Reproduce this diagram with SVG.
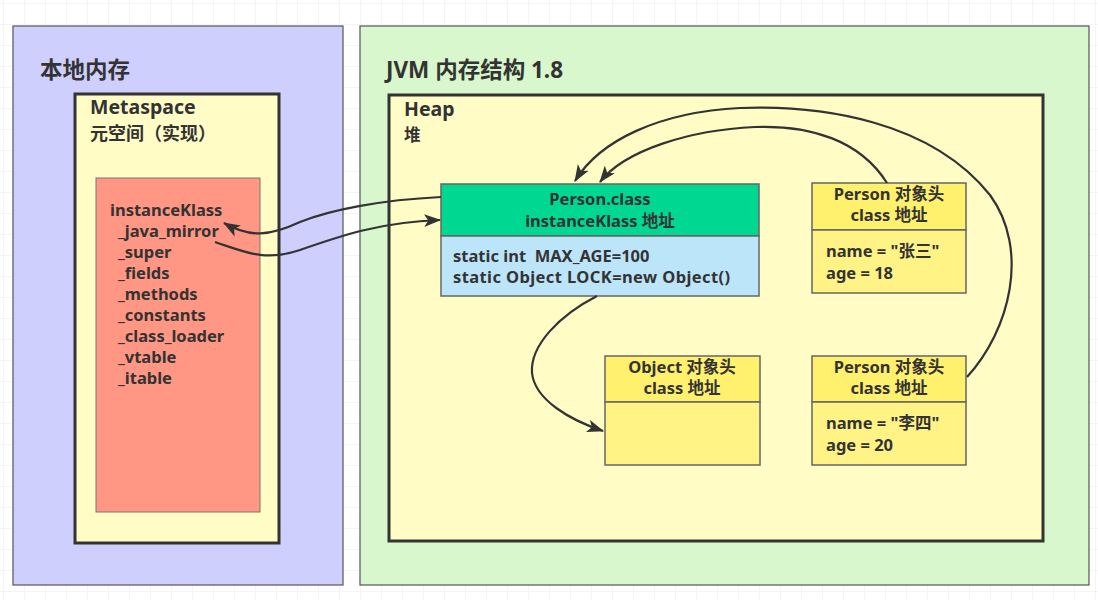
<svg xmlns="http://www.w3.org/2000/svg" width="1098" height="600" viewBox="0 0 1098 600">
<defs>
<pattern id="grid" width="21" height="21" patternUnits="userSpaceOnUse" x="3" y="3">
<path d="M21 0 L0 0 0 21" fill="none" stroke="#ececec" stroke-width="1"/>
</pattern>
<marker id="arr" viewBox="0 0 16 12" refX="15" refY="6" markerWidth="17" markerHeight="13" markerUnits="userSpaceOnUse" orient="auto">
<path d="M0 0 L16 6 L0 12 L4 6 Z" fill="#333"/>
</marker>
</defs>
<style>
text{font-family:"Noto Sans","Noto Sans CJK SC",sans-serif;font-weight:bold;fill:#333;white-space:pre;}
.t1{font-size:22.5px;}
.t2{font-size:19.5px;}
.t4{font-size:18px;}
.t3{font-size:16.5px;}
.c{text-anchor:middle;}
.box{stroke:#555;stroke-width:1.2;}
.thick{stroke:#333;stroke-width:3;}
.node{stroke:#666;stroke-width:1.5;}
.conn{fill:none;stroke:#333;stroke-width:2.2;marker-end:url(#arr);}
</style>
<rect width="1098" height="600" fill="#fff"/>
<rect width="1098" height="600" fill="url(#grid)"/>

<g id="native">
<rect class="box" x="13" y="26" width="330" height="559" fill="#cfcffd"/>
<text class="t1" x="40" y="78">本地内存</text>
</g>
<g id="jvm">
<rect class="box" x="360" y="26" width="729" height="559" fill="#d8f7cc"/>
<text class="t1" x="386" y="78">JVM 内存结构 1.8</text>
</g>
<g id="metaspace">
<rect class="thick" x="75" y="94" width="204" height="449" fill="#fffcc6"/>
<text class="t2" x="90" y="114">Metaspace</text>
<text class="t4" x="90" y="140">元空间（实现）</text>
</g>
<g id="instanceKlass">
<rect x="96" y="178" width="164" height="334" fill="#ff9784" stroke="#777" stroke-width="1"/>
<text class="t3" x="110" y="216">instanceKlass</text>
<text class="t3" x="118" y="237">_java_mirror</text>
<text class="t3" x="118" y="258">_super</text>
<text class="t3" x="118" y="279">_fields</text>
<text class="t3" x="118" y="300">_methods</text>
<text class="t3" x="118" y="321">_constants</text>
<text class="t3" x="118" y="342">_class_loader</text>
<text class="t3" x="118" y="363">_vtable</text>
<text class="t3" x="118" y="384">_itable</text>
</g>
<g id="heap">
<rect class="thick" x="389" y="95" width="654" height="446" fill="#fffcc6"/>
<text class="t2" x="404" y="116">Heap</text>
<text class="t3" x="404" y="141">堆</text>
</g>
<g id="personClass">
<rect class="node" x="441" y="184" width="318" height="52" fill="#00d791"/>
<rect class="node" x="441" y="236" width="318" height="60" fill="#bde5fa"/>
<text class="t3 c" x="600" y="205">Person.class</text>
<text class="t3 c" x="600" y="227">instanceKlass 地址</text>
<text class="t3" x="453" y="262">static int  MAX_AGE=100</text>
<text class="t3" x="453" y="283" letter-spacing="0.4">static Object LOCK=new Object()</text>
</g>
<g id="person1">
<rect class="node" x="812" y="183" width="154" height="47" fill="#fff06d"/>
<rect class="node" x="812" y="230" width="154" height="63" fill="#fff386"/>
<text class="t3 c" x="889" y="200">Person 对象头</text>
<text class="t3 c" x="889" y="221">class 地址</text>
<text class="t3" x="826" y="257">name = "张三"</text>
<text class="t3" x="826" y="279">age = 18</text>
</g>
<g id="object1">
<rect class="node" x="605" y="356" width="155" height="46" fill="#fff06d"/>
<rect class="node" x="605" y="402" width="155" height="63" fill="#fff386"/>
<text class="t3 c" x="682" y="373">Object 对象头</text>
<text class="t3 c" x="682" y="394">class 地址</text>
</g>
<g id="person2">
<rect class="node" x="812" y="356" width="154" height="46" fill="#fff06d"/>
<rect class="node" x="812" y="402" width="154" height="63" fill="#fff386"/>
<text class="t3 c" x="889" y="373">Person 对象头</text>
<text class="t3 c" x="889" y="394">class 地址</text>
<text class="t3" x="826" y="429">name = "李四"</text>
<text class="t3" x="826" y="451">age = 20</text>
</g>
<g id="connectors">
<path class="conn" d="M441 197 C 380 200, 330 210, 300 222 C 270 236, 250 238, 224 223"/>
<path class="conn" d="M215 242 C 245 252, 265 262, 300 250 C 340 236, 380 222, 440 220"/>
<path class="conn" d="M967 377 C 1010 330, 1030 250, 990 195 C 930 120, 820 105, 740 108 C 660 112, 600 140, 575 181"/>
<path class="conn" d="M887 183 C 860 140, 810 125, 755 127 C 690 130, 625 150, 600 182"/>
<path class="conn" d="M597 296 C 560 315, 530 345, 532 373 C 535 400, 570 420, 603 431"/>
</g>
</svg>
